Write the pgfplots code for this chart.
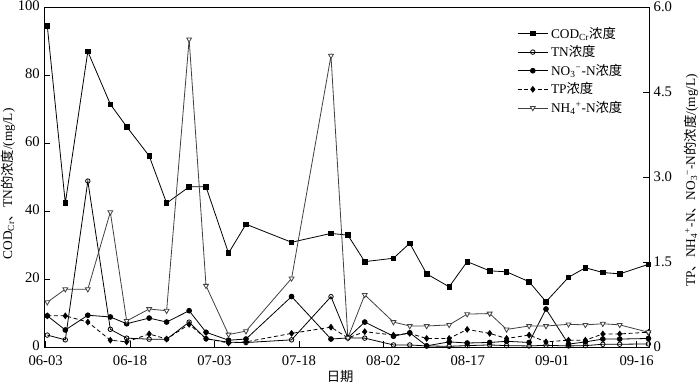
\documentclass[border=0pt]{standalone}
\usepackage{fontspec}
\setmainfont{Liberation Serif}
\newfontfamily\cjk{Noto Sans CJK SC}
\usepackage{pgfplots}
\usepackage{pgfplotstable}
\pgfplotsset{compat=1.18}

\pgfplotstableread{
x     cod   tn    no3   tp    nh4
0.3   94.4  3.5   0.55  0.55  0.79
3.5   42.3  2.1   0.30  0.55  1.02
7.5   86.9  48.8  0.56  0.44  1.02
11.5  71.4  5.2   0.53  0.12  2.38
14.4  64.8  2.6   0.41  0.09  0.46
18.4  56.2  2.3   0.51  0.23  0.67
21.5  42.3  2.3   0.44  0.14  0.64
25.5  47.1  7.3   0.64  0.40  5.43
28.5  47.1  2.4   0.26  0.15  1.08
32.5  27.6  1.4   0.12  0.07  0.22
35.6  36.1  1.3   0.14  0.09  0.28
43.7  30.8  2.1   0.89  0.24  1.21
50.7  33.4  14.8  0.14  0.35  5.14
53.7  32.9  2.7   0.16  0.16  0.16
56.7  25.1  2.6   0.44  0.27  0.92
61.8  26.1  0.6   0.19  0.21  0.44
64.7  30.5  0.6   0.25  0.24  0.37
67.7  21.5  0.3   0.02  0.15  0.37
71.7  17.7  0.2   0.09  0.15  0.39
74.9  25.1  0.4   0.07  0.31  0.58
78.9  22.4  0.6   0.08  0.24  0.59
81.9  22.1  0.4   0.10  0.15  0.31
85.9  19.2  0.3   0.08  0.21  0.37
88.9  13.3  0.5   0.67  0.09  0.37
92.9  20.5  0.3   0.05  0.12  0.40
95.9  23.3  0.4   0.09  0.12  0.39
99.0  21.9  0.8   0.14  0.23  0.41
102.0 21.5  0.8   0.14  0.23  0.39
107.1 24.3  0.9   0.15  0.26  0.26
}\datatable

\pgfplotsset{
  base/.style={
    width=453.4pt, height=255pt, scale only axis,
    xmin=-0.2, xmax=107.2,
    tick align=inside,
    tick style={black, line width=0.5pt},
    axis line style={line width=0.6pt},
    tick label style={font=\fontsize{11}{13}\selectfont},
    label style={font=\fontsize{10}{12}\selectfont},
    /pgf/number format/assume math mode=true,
  },
  codst/.style={black, line width=0.6pt, mark=square*, mark size=1.7pt, mark options={solid, fill=black}},
  tnst/.style={black, line width=0.6pt, mark=o, mark size=1.7pt, mark options={solid, fill=white}},
  no3st/.style={black, line width=0.6pt, mark=*, mark size=1.8pt, mark options={solid, fill=black}},
  tpst/.style={black, line width=0.6pt, densely dashed, mark=diamond*, mark size=2.1pt, mark options={solid, fill=black}},
  nhst/.style={black!75, line width=0.6pt, mark=triangle*, mark size=2.1pt, mark options={solid, rotate=180, fill=white, draw=black!75}},
}

\begin{document}
\begin{tikzpicture}
\begin{axis}[base,
  ymin=0, ymax=100,
  ytick={0,20,40,60,80,100},
  xtick={0,15,30,45,60,75,90,105},
  xticklabels={06-03,06-18,07-03,07-18,08-02,08-17,09-01,09-16},
  xticklabel style={yshift=-3pt},
  yticklabel style={yshift=1pt},
  xtick pos=bottom, ytick pos=left,
  xlabel={{\cjk 日期}},
  xlabel style={at={(rel axis cs:0.489,-0.088)}, anchor=center},
  ylabel={COD\textsubscript{Cr}{\cjk 、}TN{\cjk 的浓度}/(mg/L)},
  ylabel style={at={(rel axis cs:-0.0604,0.48)}, anchor=center, rotate=0},
]
\addplot[codst] table[x=x, y=cod] {\datatable};
\addplot[tnst] table[x=x, y=tn] {\datatable};
\coordinate (bbsw) at (rel axis cs:-0.0736,-0.1118);
\coordinate (bbne) at (rel axis cs:1.0844,1.0206);
\end{axis}
\begin{axis}[base,
  ymin=0, ymax=6,
  ytick={0,1.5,3,4.5,6},
  yticklabels={0,1.5,3.0,4.5,6.0},
  hide x axis,
  axis y line*=right,
  y axis line style={-},
  ylabel={TP{\cjk 、}NH\textsubscript{4}\textsuperscript{+}-N{\cjk 、}NO\textsubscript{3}\textsuperscript{−}-N{\cjk 的浓度}/(mg/L)},
  ylabel style={at={(rel axis cs:1.0695,0.49)}, anchor=center, rotate=0},
  legend cell align=left,
  legend style={at={(rel axis cs:0.775,0.958)}, anchor=north west, draw=none, fill=none,
    font=\fontsize{10}{12}\selectfont, row sep=0pt},
  legend image code/.code={\draw[mark repeat=2, mark phase=2, #1] plot coordinates {(0cm,0cm) (0.4cm,0cm) (0.8cm,0cm)};},
]
\addlegendimage{codst}
\addlegendentry{COD\textsubscript{Cr}{\cjk 浓度}}
\addlegendimage{tnst}
\addlegendentry{TN{\cjk 浓度}}
\addplot[no3st] table[x=x, y=no3] {\datatable};
\addlegendentry{NO\textsubscript{3}\textsuperscript{−}-N{\cjk 浓度}}
\addplot[tpst] table[x=x, y=tp] {\datatable};
\addlegendentry{TP{\cjk 浓度}}
\addplot[nhst] table[x=x, y=nh4] {\datatable};
\addlegendentry{NH\textsubscript{4}\textsuperscript{+}-N{\cjk 浓度}}
\end{axis}
\pgfresetboundingbox
\path[use as bounding box] (bbsw) rectangle (bbne);
\end{tikzpicture}
\end{document}
